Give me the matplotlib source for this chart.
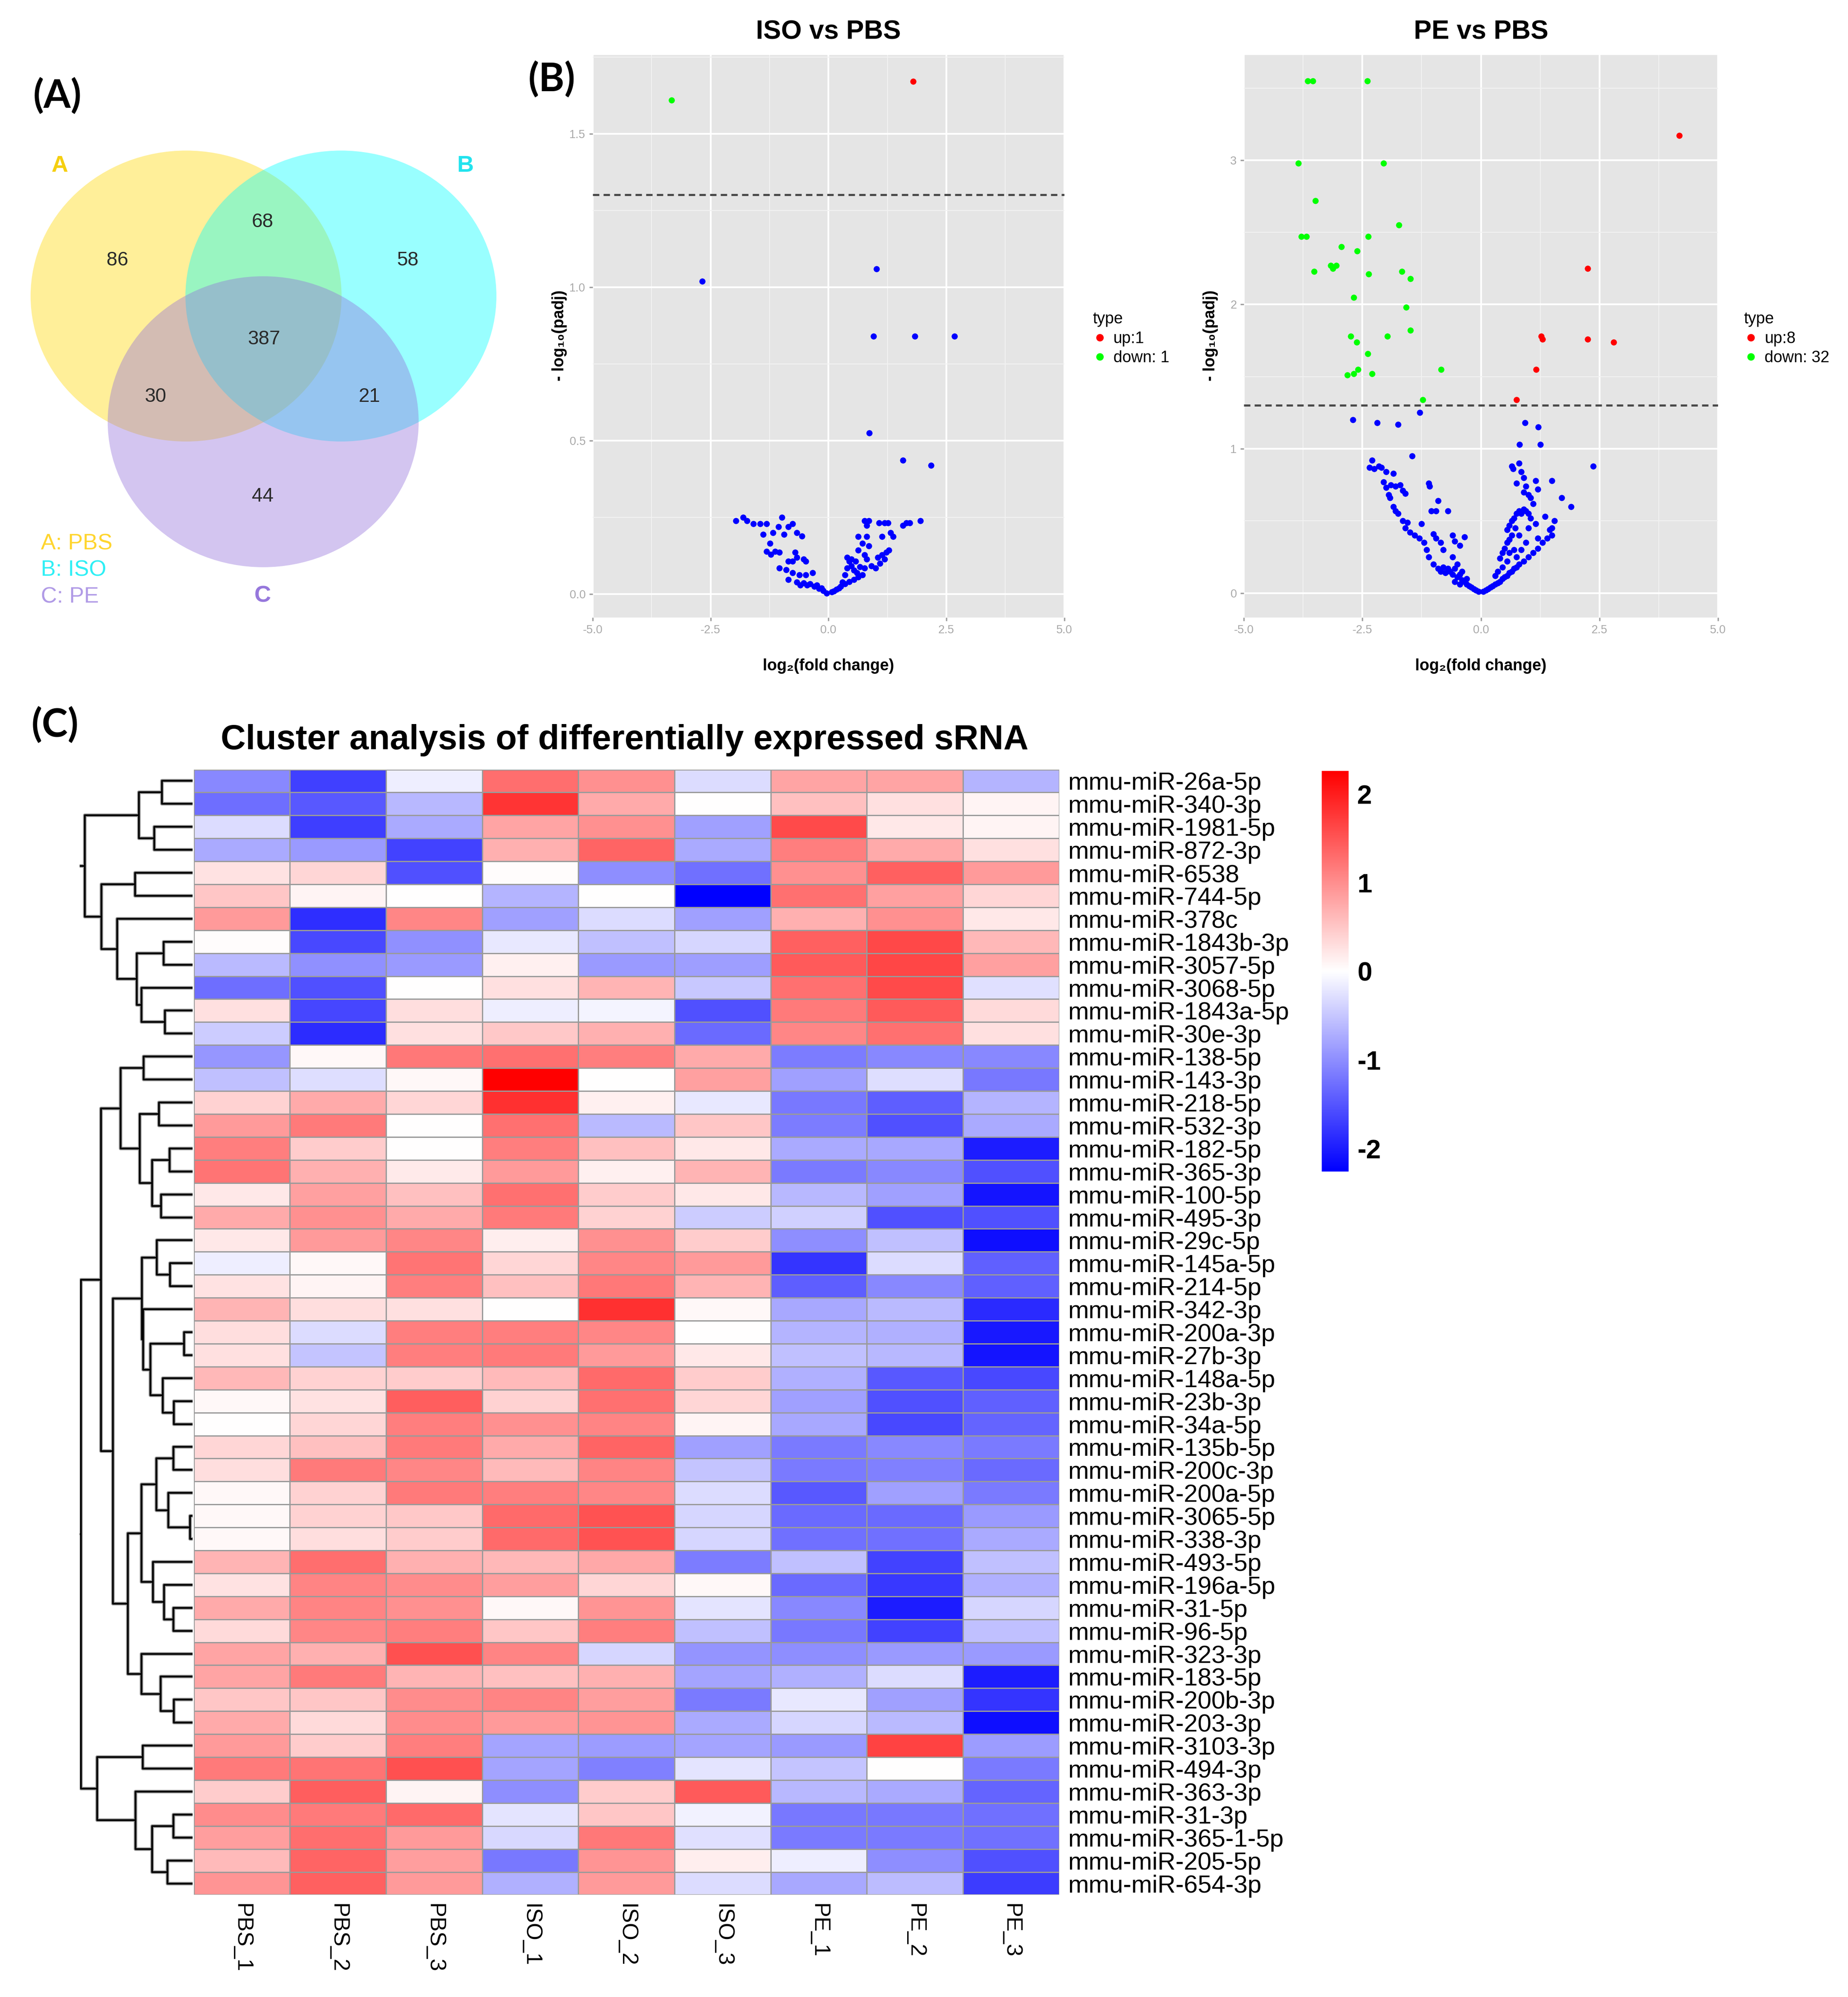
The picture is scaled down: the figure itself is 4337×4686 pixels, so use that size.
# Figure: Venn of detected sRNAs, two volcano plots and clustered heatmap
import numpy as np
import matplotlib
matplotlib.use('Agg')
import matplotlib.pyplot as plt
from matplotlib.patches import Ellipse
from matplotlib.colors import LinearSegmentedColormap, Normalize
from matplotlib.cm import ScalarMappable
from matplotlib.lines import Line2D

plt.rcParams['font.family'] = ['Liberation Sans', 'DejaVu Sans']
plt.rcParams['axes.unicode_minus'] = False

# ---------------- data ----------------
venn_regions = ['A', 'AB', 'B', 'ABC', 'AC', 'BC', 'C']
venn_counts = [86, 68, 58, 387, 30, 21, 44]
venn_names = ['A: PBS', 'B: ISO', 'C: PE']

# volcano ISO vs PBS (log2 fold change, -log10 padj)
iso_up = [(1.80, 1.67)]
iso_down = [(-3.33, 1.61)]
iso_ns = [(-2.68, 1.02), (1.02, 1.06), (0.96, 0.84), (1.83, 0.84), (2.67, 0.84),
          (0.87, 0.525), (1.58, 0.436), (2.18, 0.42),
          (-1.96, 0.24), (-1.81, 0.25), (-1.73, 0.24), (-1.59, 0.23), (-1.45, 0.23),
          (-1.31, 0.23), (-1.38, 0.195), (-1.18, 0.20), (-0.99, 0.25), (-1.06, 0.22),
          (-0.85, 0.22), (-0.76, 0.23), (-0.67, 0.20), (-0.56, 0.19), (-0.94, 0.195),
          (-1.31, 0.14), (-1.22, 0.13), (-1.13, 0.14), (-1.04, 0.136), (-0.85, 0.107),
          (-0.76, 0.107), (-0.67, 0.12), (-0.53, 0.114), (-0.48, 0.107), (-1.04, 0.085),
          (-0.90, 0.08), (-0.76, 0.07), (-0.62, 0.063), (-0.48, 0.063), (-0.34, 0.07),
          (-0.85, 0.048), (-0.67, 0.04), (-0.53, 0.037), (-0.39, 0.034), (-0.30, 0.026),
          (-0.20, 0.019), (-0.11, 0.012), (-0.04, 0.004), (-0.71, 0.136), (-1.24, 0.166),
          (-0.25, 0.03), (-0.15, 0.02), (-0.45, 0.03), (-0.60, 0.03),
          (0.07, 0.007), (0.17, 0.016), (0.26, 0.026), (0.35, 0.034), (0.44, 0.041),
          (0.54, 0.048), (0.63, 0.056), (0.72, 0.063), (0.35, 0.063), (0.40, 0.085),
          (0.44, 0.107), (0.49, 0.092), (0.54, 0.078), (0.58, 0.107), (0.40, 0.12),
          (0.49, 0.114), (0.77, 0.085), (0.81, 0.114), (0.91, 0.092), (1.00, 0.085),
          (1.09, 0.10), (1.05, 0.12), (1.19, 0.114), (1.23, 0.136), (1.28, 0.144),
          (1.14, 0.129), (0.77, 0.129), (0.86, 0.158), (0.81, 0.188), (0.63, 0.188),
          (0.77, 0.24), (0.86, 0.24), (0.81, 0.224), (1.07, 0.232), (1.19, 0.232),
          (1.26, 0.232), (1.14, 0.188), (1.32, 0.20), (1.37, 0.188), (1.58, 0.224),
          (1.65, 0.232), (1.72, 0.232), (1.95, 0.24), (0.63, 0.144), (0.72, 0.166),
          (0.12, 0.01), (0.22, 0.02), (0.30, 0.04), (0.60, 0.07), (0.67, 0.09)]

# volcano PE vs PBS
pe_up = [(4.18, 3.17), (2.25, 2.25), (1.27, 1.78), (1.30, 1.76), (2.25, 1.76),
         (2.80, 1.74), (1.16, 1.55), (0.75, 1.34)]
pe_down = [(-3.65, 3.55), (-3.55, 3.55), (-2.40, 3.55), (-3.85, 2.98), (-2.05, 2.98),
           (-3.49, 2.72), (-1.73, 2.55), (-3.79, 2.47), (-3.68, 2.47), (-2.38, 2.47),
           (-2.94, 2.40), (-2.61, 2.37), (-3.17, 2.27), (-3.12, 2.25), (-3.05, 2.27),
           (-3.52, 2.23), (-2.37, 2.21), (-1.67, 2.23), (-1.49, 2.18), (-2.68, 2.05),
           (-1.58, 1.98), (-1.49, 1.82), (-2.75, 1.78), (-1.97, 1.78), (-2.62, 1.74),
           (-2.39, 1.66), (-2.59, 1.55), (-2.82, 1.51), (-2.68, 1.52), (-2.30, 1.52),
           (-0.84, 1.55), (-1.23, 1.34)]
pe_ns = [(-2.70, 1.20), (-2.19, 1.18), (-1.75, 1.17), (-1.29, 1.25), (0.93, 1.18),
         (1.21, 1.15), (0.81, 1.03), (1.25, 1.03), (-1.45, 0.95), (2.37, 0.88),
         (-2.30, 0.92), (-2.35, 0.87), (-2.25, 0.86), (-2.15, 0.88), (-2.10, 0.87),
         (-2.00, 0.84), (-1.85, 0.83), (-2.05, 0.77), (-2.00, 0.73), (-1.90, 0.75),
         (-1.80, 0.74), (-1.70, 0.75), (-1.65, 0.71), (-1.60, 0.69), (-1.95, 0.68),
         (-1.92, 0.66), (-1.85, 0.60), (-1.80, 0.57), (-1.75, 0.55), (-1.65, 0.50),
         (-1.55, 0.49), (-1.60, 0.45), (-1.50, 0.42), (-1.40, 0.40), (-1.30, 0.38),
         (-1.25, 0.48), (-1.10, 0.76), (-1.08, 0.74), (-0.90, 0.64), (-1.05, 0.57),
         (-0.95, 0.57), (-0.70, 0.57), (-1.20, 0.35), (-1.15, 0.30), (-1.10, 0.25),
         (-1.00, 0.41), (-0.95, 0.38), (-0.85, 0.35), (-0.80, 0.30), (-0.60, 0.40),
         (-0.55, 0.36), (-0.35, 0.39), (-0.45, 0.33), (-1.00, 0.20), (-0.90, 0.17),
         (-0.85, 0.15), (-0.80, 0.18), (-0.75, 0.14), (-0.70, 0.17), (-0.65, 0.15),
         (-0.60, 0.13), (-0.55, 0.17), (-0.50, 0.11), (-0.45, 0.13), (-0.40, 0.09),
         (-0.35, 0.08), (-0.30, 0.06), (-0.25, 0.05), (-0.20, 0.04), (-0.15, 0.03),
         (-0.10, 0.02), (-0.05, 0.01), (-0.60, 0.25), (-0.50, 0.20), (-0.40, 0.15),
         (-0.30, 0.10), (-0.55, 0.08), (-0.45, 0.06),
         (0.05, 0.01), (0.10, 0.02), (0.15, 0.03), (0.20, 0.04), (0.25, 0.05),
         (0.30, 0.06), (0.35, 0.07), (0.40, 0.08), (0.45, 0.10), (0.50, 0.11),
         (0.55, 0.12), (0.60, 0.14), (0.65, 0.15), (0.70, 0.17), (0.75, 0.18),
         (0.80, 0.20), (0.90, 0.22), (1.00, 0.25), (1.10, 0.28), (1.20, 0.31),
         (1.30, 0.35), (1.40, 0.38), (1.50, 0.40), (1.45, 0.44), (1.55, 0.50),
         (1.50, 0.45), (0.40, 0.24), (0.45, 0.28), (0.50, 0.31), (0.55, 0.35),
         (0.60, 0.37), (0.65, 0.40), (0.55, 0.44), (0.60, 0.47), (0.65, 0.50),
         (0.70, 0.52), (0.75, 0.55), (0.80, 0.57), (0.85, 0.55), (0.90, 0.58),
         (0.95, 0.57), (1.00, 0.55), (0.65, 0.88), (0.68, 0.86), (0.80, 0.90),
         (0.85, 0.84), (0.90, 0.80), (0.75, 0.76), (0.95, 0.74), (0.90, 0.70),
         (1.00, 0.68), (1.05, 0.66), (1.10, 0.62), (1.05, 0.52), (1.15, 0.48),
         (1.20, 0.38), (0.95, 0.35), (0.85, 0.30), (0.70, 0.30), (0.75, 0.25),
         (0.60, 0.28), (0.55, 0.22), (1.15, 0.78), (1.20, 0.72), (1.50, 0.78),
         (1.70, 0.66), (1.90, 0.60), (1.35, 0.53), (0.72, 0.45), (0.80, 0.40),
         (1.00, 0.45), (0.35, 0.15), (0.30, 0.12), (0.45, 0.18)]

samples = ['PBS_1', 'PBS_2', 'PBS_3', 'ISO_1', 'ISO_2', 'ISO_3', 'PE_1', 'PE_2', 'PE_3']
mirnas = ['mmu-miR-26a-5p', 'mmu-miR-340-3p', 'mmu-miR-1981-5p', 'mmu-miR-872-3p',
          'mmu-miR-6538', 'mmu-miR-744-5p', 'mmu-miR-378c', 'mmu-miR-1843b-3p',
          'mmu-miR-3057-5p', 'mmu-miR-3068-5p', 'mmu-miR-1843a-5p', 'mmu-miR-30e-3p',
          'mmu-miR-138-5p', 'mmu-miR-143-3p', 'mmu-miR-218-5p', 'mmu-miR-532-3p',
          'mmu-miR-182-5p', 'mmu-miR-365-3p', 'mmu-miR-100-5p', 'mmu-miR-495-3p',
          'mmu-miR-29c-5p', 'mmu-miR-145a-5p', 'mmu-miR-214-5p', 'mmu-miR-342-3p',
          'mmu-miR-200a-3p', 'mmu-miR-27b-3p', 'mmu-miR-148a-5p', 'mmu-miR-23b-3p',
          'mmu-miR-34a-5p', 'mmu-miR-135b-5p', 'mmu-miR-200c-3p', 'mmu-miR-200a-5p',
          'mmu-miR-3065-5p', 'mmu-miR-338-3p', 'mmu-miR-493-5p', 'mmu-miR-196a-5p',
          'mmu-miR-31-5p', 'mmu-miR-96-5p', 'mmu-miR-323-3p', 'mmu-miR-183-5p',
          'mmu-miR-200b-3p', 'mmu-miR-203-3p', 'mmu-miR-3103-3p', 'mmu-miR-494-3p',
          'mmu-miR-363-3p', 'mmu-miR-31-3p', 'mmu-miR-365-1-5p', 'mmu-miR-205-5p',
          'mmu-miR-654-3p']

zscores = [
    [-1.05, -1.69, -0.15, 1.28, 0.98, -0.31, 0.80, 0.80, -0.66],
    [-1.28, -1.48, -0.63, 1.79, 0.75, 0.00, 0.56, 0.28, 0.09],
    [-0.31, -1.70, -0.75, 0.80, 0.98, -0.84, 1.59, 0.20, 0.09],
    [-0.75, -0.90, -1.66, 0.70, 1.36, -0.75, 1.13, 0.75, 0.28],
    [0.25, 0.37, -1.55, 0.02, -1.00, -1.26, 0.98, 1.41, 0.90],
    [0.51, 0.09, 0.01, -0.66, 0.01, -2.26, 1.26, 0.84, 0.37],
    [0.90, -1.85, 1.06, -0.84, -0.31, -0.84, 0.70, 0.98, 0.20],
    [0.02, -1.62, -0.98, -0.20, -0.56, -0.37, 1.41, 1.62, 0.63],
    [-0.61, -0.98, -0.90, 0.13, -0.90, -0.86, 1.46, 1.64, 0.84],
    [-1.28, -1.55, 0.01, 0.28, 0.66, -0.48, 1.26, 1.59, -0.27],
    [0.28, -1.64, 0.30, -0.15, -0.09, -1.55, 1.18, 1.46, 0.33],
    [-0.45, -1.87, 0.28, 0.49, 0.70, -1.32, 1.06, 1.26, 0.28],
    [-0.93, 0.06, 1.20, 1.26, 1.13, 0.75, -1.16, -1.05, -1.05],
    [-0.56, -0.30, 0.06, 2.26, 0.00, 0.84, -0.84, -0.30, -1.20],
    [0.40, 0.75, 0.37, 1.83, 0.13, -0.20, -1.20, -1.42, -0.66],
    [0.90, 1.18, 0.00, 1.26, -0.61, 0.51, -1.16, -1.55, -0.75],
    [1.13, 0.45, 0.00, 1.13, 0.56, 0.20, -0.75, -0.77, -2.00],
    [1.22, 0.70, 0.18, 0.90, 0.13, 0.66, -1.18, -1.05, -1.55],
    [0.20, 0.84, 0.56, 1.26, 0.45, 0.20, -0.63, -0.84, -2.07],
    [0.75, 0.98, 0.75, 1.18, 0.40, -0.45, -0.41, -1.55, -1.55],
    [0.20, 0.90, 1.06, 0.15, 0.98, 0.45, -1.00, -0.56, -2.12],
    [-0.15, 0.06, 1.22, 0.37, 1.06, 0.90, -1.79, -0.31, -1.41],
    [0.25, 0.09, 1.13, 0.56, 1.20, 0.66, -1.42, -1.05, -1.41],
    [0.66, 0.30, 0.28, 0.00, 1.83, 0.06, -0.77, -0.61, -1.88],
    [0.30, -0.31, 1.13, 1.13, 1.06, 0.00, -0.66, -0.70, -2.04],
    [0.28, -0.52, 1.13, 1.18, 0.90, 0.20, -0.56, -0.63, -2.07],
    [0.63, 0.40, 0.45, 0.61, 1.32, 0.45, -0.70, -1.48, -1.62],
    [0.06, 0.25, 1.42, 0.40, 1.26, 0.37, -0.84, -1.55, -1.41],
    [0.00, 0.37, 1.13, 0.98, 1.08, 0.09, -0.77, -1.62, -1.37],
    [0.37, 0.56, 1.18, 0.75, 1.36, -0.84, -1.18, -1.05, -1.18],
    [0.30, 1.18, 1.06, 0.61, 1.08, -0.52, -1.18, -1.13, -1.32],
    [0.06, 0.40, 1.18, 1.13, 1.06, -0.31, -1.48, -0.84, -1.18],
    [0.06, 0.40, 0.49, 1.32, 1.53, -0.37, -1.32, -1.32, -0.90],
    [0.06, 0.30, 0.45, 1.32, 1.53, -0.37, -1.26, -1.26, -0.75],
    [0.66, 1.28, 0.70, 0.63, 0.77, -1.16, -0.56, -1.66, -0.56],
    [0.25, 1.08, 1.02, 0.86, 0.37, 0.06, -1.32, -1.76, -0.70],
    [0.75, 1.08, 0.98, 0.06, 0.95, -0.23, -1.05, -2.00, -0.37],
    [0.33, 1.06, 1.13, 0.51, 1.13, -0.56, -1.20, -1.66, -0.56],
    [0.80, 0.70, 1.55, 1.08, -0.37, -0.95, -1.00, -0.90, -0.90],
    [0.80, 1.18, 0.66, 0.56, 0.70, -0.80, -0.70, -0.31, -2.00],
    [0.51, 0.51, 1.02, 1.08, 0.86, -1.18, -0.20, -0.84, -1.79],
    [0.75, 0.33, 1.02, 0.90, 0.95, -0.75, -0.37, -0.61, -2.12],
    [0.90, 0.45, 1.13, -0.80, -0.88, -0.80, -0.90, 1.66, -0.88],
    [1.18, 1.22, 1.55, -0.80, -1.13, -0.23, -0.52, 0.00, -1.18],
    [0.45, 1.42, 0.09, -1.00, 0.45, 1.46, -0.63, -0.75, -1.37],
    [1.02, 1.18, 1.32, -0.23, 0.51, -0.12, -1.20, -1.20, -1.26],
    [0.86, 1.28, 0.90, -0.34, 1.20, -0.27, -1.18, -1.18, -1.26],
    [0.61, 1.36, 0.86, -1.20, 0.95, 0.15, -0.15, -1.00, -1.55],
    [0.95, 1.41, 0.90, -0.70, 0.90, -0.31, -0.77, -0.59, -1.72],
]

# row dendrogram: (left, right, merge height); leaves are 1-based row numbers
tree_top = (((1, 2, 72), (3, 4, 90), 126),
            ((5, 6, 135), (7, ((8, 9, 68), (10, (11, 12, 65), 120), 131), 177), 214), 253)
tree_q = (24, ((25, 26, 20), (27, (28, 29, 44), 70), 99), 116)
tree_p = ((21, (22, 23, 53), 84), tree_q, 119)
tree_t = (((30, 31, 45), (32, (33, 34, 6), 57), 85), (35, (36, (37, 38, 45), 67), 93), 120)
tree_u = (39, (40, (41, 42, 44), 75), 120)
tree_b1 = (((13, 14, 115), ((15, 16, 79), ((17, 18, 54), (19, 20, 74), 95), 124), 169),
           (tree_p, (tree_t, tree_u, 152), 187), 215)
tree_b2 = ((43, 44, 117), (45, ((46, 47, 45), (48, 49, 59), 95), 134), 224)
tree = (tree_top, (tree_b1, tree_b2, 262), 300)

# ---------------- layout helpers (reference pixel frame) ----------------
W, H = 1450.0, 1565.0


def box(x0, y0, x1, y1):
    return [x0 / W, 1 - y1 / H, (x1 - x0) / W, (y1 - y0) / H]


def fx(x):
    return x / W


def fy(y):
    return 1 - y / H


fig = plt.figure(figsize=(4337 / 300, 4686 / 300), dpi=300)

label_font = ['Lato', 'Liberation Sans', 'DejaVu Sans']
fig.text(fx(45), fy(75), '(A)', fontsize=22, fontweight='bold', family=label_font,
         ha='center', va='center')
fig.text(fx(433), fy(62), '(B)', fontsize=22, fontweight='bold', family=label_font,
         ha='center', va='center')
fig.text(fx(43), fy(568), '(C)', fontsize=22, fontweight='bold', family=label_font,
         ha='center', va='center')

# ---------------- (A) Venn ----------------
ax = fig.add_axes(box(0, 95, 420, 495))
ax.set_xlim(0, 420)
ax.set_ylim(495, 95)
ax.axis('off')
circle_xy = [(146, 232), (267.5, 232), (206.5, 330.5)]
circle_colors = ['gold', 'cyan', 'mediumpurple']
for (cx, cy), c in zip(circle_xy, circle_colors):
    ax.add_patch(Ellipse((cx, cy), 244, 228, facecolor=c, alpha=0.4, lw=0))
region_xy = {'A': (92, 204), 'AB': (206, 174), 'B': (320, 204), 'ABC': (207, 266),
             'AC': (122, 311), 'BC': (290, 311), 'C': (206, 389)}
for reg, n in zip(venn_regions, venn_counts):
    ax.text(*region_xy[reg], str(n), fontsize=11, ha='center', va='center', color='#2a2a2a')
set_label_xy = [(47, 130), (365, 130), (206, 467)]
set_label_colors = ['#F5CF10', '#22E3EE', '#9677DC']
for (x, y), name, c in zip(set_label_xy, venn_names, set_label_colors):
    ax.text(x, y, name[0], fontsize=13, fontweight='bold', color=c, ha='center', va='center')
for i, (name, c) in enumerate(zip(venn_names, ['#FFD52E', '#2EEFF5', '#B09AE6'])):
    ax.text(32, 426 + 21 * i, name, fontsize=12.5, color=c, ha='left', va='center')


# ---------------- (B) volcano plots ----------------
def volcano(x0, x1, title, ns, up, down, ylim, yticks, ytick_labels, legend_x):
    ax = fig.add_axes(box(x0, 43, x1, 484))
    ax.set_facecolor('#E5E5E5')
    ax.set_xlim(-5, 5)
    ax.set_ylim(*ylim)
    ax.set_xticks([-5, -2.5, 0, 2.5, 5])
    ax.set_xticklabels(['-5.0', '-2.5', '0.0', '2.5', '5.0'])
    ax.set_yticks(yticks)
    ax.set_yticklabels(ytick_labels)
    ax.set_xticks([-3.75, -1.25, 1.25, 3.75], minor=True)
    step = yticks[1] - yticks[0]
    ax.set_yticks([t + step / 2 for t in yticks], minor=True)
    ax.grid(True, which='major', color='white', lw=1.0)
    ax.grid(True, which='minor', color='#F2F2F2', lw=0.5)
    ax.set_axisbelow(True)
    for s in ax.spines.values():
        s.set_visible(False)
    ax.tick_params(which='major', length=2, color='#A0A0A0', labelsize=6.5,
                   labelcolor='#A8A8A8', pad=2)
    ax.tick_params(which='minor', length=0)
    for pts, col in [(ns, '#0000FF'), (up, '#FF0000'), (down, '#00FF00')]:
        arr = np.array(pts)
        ax.scatter(arr[:, 0], arr[:, 1], s=12, color=col, lw=0, zorder=3)
    ax.axhline(-np.log10(0.05), color='#4a4a4a', lw=1.2, ls=(0, (3, 2)), zorder=2)
    xc = (x0 + x1) / 2
    fig.text(fx(xc), fy(25), title, fontsize=15, fontweight='bold', ha='center', va='center')
    fig.text(fx(xc), fy(522), 'log\u2082(fold change)', fontsize=9, fontweight='bold',
             ha='center', va='center')
    fig.text(fx(x0 - 26), fy(263), '- log\u2081\u2080(padj)', fontsize=9, fontweight='bold',
             ha='center', va='center', rotation=90)
    handles = [Line2D([], [], marker='o', ls='', color='#FF0000', markersize=3.2),
               Line2D([], [], marker='o', ls='', color='#00FF00', markersize=3.2)]
    fig.legend(handles, ['up:%d' % len(up), 'down: %d' % len(down)], title='type',
               loc='upper left', bbox_to_anchor=(fx(legend_x), fy(238)),
               frameon=False, fontsize=9, title_fontsize=9, handlelength=0.9,
               handletextpad=0.4, labelspacing=0.25, borderpad=0, alignment='left')
    return ax


volcano(465, 835, 'ISO vs PBS', iso_ns, iso_up, iso_down, (-0.076, 1.757),
        [0, 0.5, 1.0, 1.5], ['0.0', '0.5', '1.0', '1.5'], 851)
volcano(976, 1348, 'PE vs PBS', pe_ns, pe_up, pe_down, (-0.17, 3.73),
        [0, 1, 2, 3], ['0', '1', '2', '3'], 1362)

# ---------------- (C) heatmap ----------------
fig.text(fx(490), fy(580), 'Cluster analysis of differentially expressed sRNA',
         fontsize=19.5, fontweight='bold', ha='center', va='center')

data = np.array(zscores)
nrow, ncol = data.shape
cmap = LinearSegmentedColormap.from_list('bwr_ph', ['#0000FF', '#FFFFFF', '#FF0000'])
norm = Normalize(vmin=-2.26, vmax=2.26)

axh = fig.add_axes(box(152, 603, 831, 1485))
axh.pcolormesh(np.arange(ncol + 1), np.arange(nrow + 1), data, cmap=cmap, norm=norm,
               edgecolors='#9A9A9A', linewidth=0.7)
axh.set_xlim(0, ncol)
axh.set_ylim(nrow, 0)
for s in axh.spines.values():
    s.set_visible(False)
axh.yaxis.tick_right()
axh.set_yticks(np.arange(nrow) + 0.5)
axh.set_yticklabels(mirnas, fontsize=14)
axh.set_xticks(np.arange(ncol) + 0.5)
axh.set_xticklabels(samples, fontsize=12.5, rotation=-90, va='top')
axh.tick_params(length=0, pad=5)

# row dendrogram
axd = fig.add_axes(box(62.5, 603, 151, 1485))
axd.set_xlim(265, 0)
axd.set_ylim(nrow, 0)
axd.axis('off')


def draw_tree(node):
    if isinstance(node, int):
        return node - 0.5, 0.0
    a, b, h = node
    ya, ha = draw_tree(a)
    yb, hb = draw_tree(b)
    xs, ys = [ha, h, h, hb], [ya, ya, yb, yb]
    axd.plot(xs, ys, color='#9A9A9A', lw=2.0, solid_capstyle='butt', zorder=1)
    axd.plot(xs, ys, color='black', lw=1.0, solid_capstyle='butt', zorder=2)
    return (ya + yb) / 2, h


draw_tree(tree)

# colour key
axc = fig.add_axes(box(1037, 604, 1058, 918))
cb = fig.colorbar(ScalarMappable(norm=norm, cmap=cmap), cax=axc)
cb.outline.set_visible(False)
cb.set_ticks([-2, -1, 0, 1, 2])
cb.ax.tick_params(length=0, pad=5)
for t in cb.ax.get_yticklabels():
    t.set_fontsize(15)
    t.set_fontweight('bold')

fig.savefig('out.png', dpi=300)
